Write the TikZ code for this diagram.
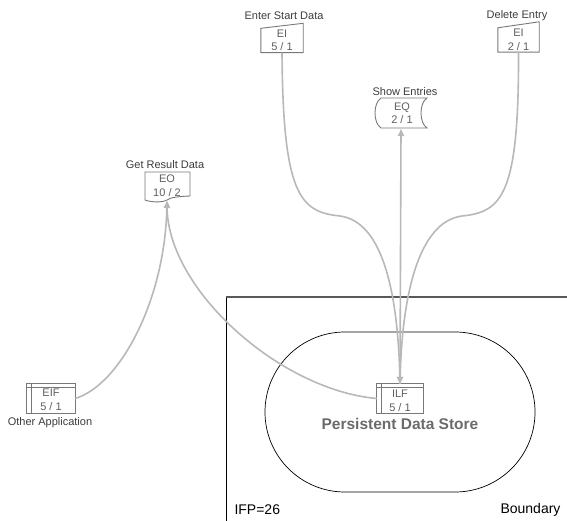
\documentclass[tikz,border=0pt]{standalone}
\usepackage{fontspec}
\setmainfont{Liberation Sans}
\usetikzlibrary{arrows.meta,calc}
\definecolor{linegray}{RGB}{184,184,184}
\definecolor{shapegray}{RGB}{120,120,120}
\definecolor{labeltxt}{RGB}{60,60,60}
\definecolor{innertxt}{RGB}{95,95,95}
\begin{document}
\begin{tikzpicture}[x=1pt,y=-1pt,
  conn/.style={draw=linegray, line width=1.6pt, -{Triangle[length=7pt,width=6pt]}},
  outline/.style={draw=shapegray, line width=0.9pt},
  inner/.style={font=\fontsize{11}{13.5}\selectfont, text=innertxt, align=center, inner sep=0pt},
  lbl/.style={font=\fontsize{11}{13}\selectfont, text=labeltxt, inner sep=0pt},
  boxnode/.style={minimum width=#1, inner sep=0pt, minimum height=29pt},
]
\useasboundingbox (0,0) rectangle (567,521);
% boundary
\draw[line width=0.8pt] (226,297) -- (226,521);
\draw[draw=black!65, line width=1.2pt] (226,297) -- (567,297);
% persistent data store
\draw[line width=0.7pt, rounded corners=79.9pt] (265,332) rectangle (535,492);
\node[font=\fontsize{15.5}{18}\selectfont\bfseries, text=black!58] (pds) at (400,424) {Persistent Data Store};
\node[anchor=west, font=\fontsize{14}{16}\selectfont] (ifp) at (231,510) {IFP=26};
\node[anchor=east, font=\fontsize{14}{16}\selectfont] (bnd) at (564,510) {Boundary};

% EI Enter Start Data
\node[boxnode=42pt] (ei1) at (282,38) {};
\draw[outline] (ei1.south west) -- (ei1.south east) -- (ei1.north east) -- ($(ei1.north west)+(0,5)$) -- cycle;
\node[inner] (ei1t) at (282,40.5) {EI\\5 / 1};
\node[lbl] (ei1l) at (284,16) {Enter Start Data};

% EI Delete Entry
\node[boxnode=41pt, minimum height=30pt] (ei2) at (518.5,37) {};
\draw[outline] (ei2.south west) -- (ei2.south east) -- (ei2.north east) -- ($(ei2.north west)+(0,6)$) -- cycle;
\node[inner] (ei2t) at (518.5,40) {EI\\2 / 1};
\node[lbl] (ei2l) at (517,16) {Delete Entry};

% EQ Show Entries
\node[minimum width=46pt, minimum height=30pt, inner sep=0pt] (eq) at (404,113) {};
\draw[outline] (381,98) -- (427,98) .. controls (419,103) and (419,123) .. (427,128) -- (381,128) .. controls (373,123) and (373,103) .. (381,98) -- cycle;
\node[inner] (eqt) at (402,113) {EQ\\2 / 1};
\node[lbl] (eql) at (405,92) {Show Entries};
\coordinate (eqbot) at (401,129);

% EO Get Result Data
\node[minimum width=45pt, minimum height=30pt, inner sep=0pt] (eo) at (167.5,186) {};
\draw[outline] (145,172) -- (190,172) -- (190,196) .. controls (180,196.5) and (171,197) .. (167,200) .. controls (162,203) and (150,202) .. (145,200) -- cycle;
\node[inner] (eot) at (167,185.5) {EO\\10 / 2};
\node[lbl] (eol) at (165,165) {Get Result Data};
\coordinate (eobot) at (167,201);

% ILF
\node[boxnode=46pt] (ilf) at (400,398.5) {};
\draw[outline] (ilf.south west) rectangle (ilf.north east);
\draw[outline] ($(ilf.north west)+(0,4)$) -- ($(ilf.north east)+(0,4)$);
\draw[outline] ($(ilf.north west)+(5,0)$) -- ($(ilf.south west)+(5,0)$);
\node[inner] (ilft) at (400,401) {ILF\\5 / 1};

% EIF
\node[boxnode=48pt] (eif) at (51,398.5) {};
\draw[outline] (eif.south west) rectangle (eif.north east);
\draw[outline] ($(eif.north west)+(0,4)$) -- ($(eif.north east)+(0,4)$);
\draw[outline] ($(eif.north west)+(5,0)$) -- ($(eif.south west)+(5,0)$);
\node[inner] (eift) at (51,400) {EIF\\5 / 1};
\node[lbl] (eifl) at (50,423) {Other Application};

% connectors
\draw[conn] (eif.east) .. controls (120,385) and (165,300) .. (eobot);
\draw[conn] (ilf.west) .. controls (280,390) and (168,290) .. (eobot);
\draw[conn] (ei1.south) .. controls (283,195) and (300,212) .. (340,216) .. controls (385,222) and (398,300) .. (ilf.north);
\draw[conn] (ei2.south) .. controls (519,195) and (502,212) .. (462,216) .. controls (417,222) and (402,300) .. (ilf.north);
\draw[conn] (ilf.north) -- (eqbot);
\end{tikzpicture}
\end{document}
